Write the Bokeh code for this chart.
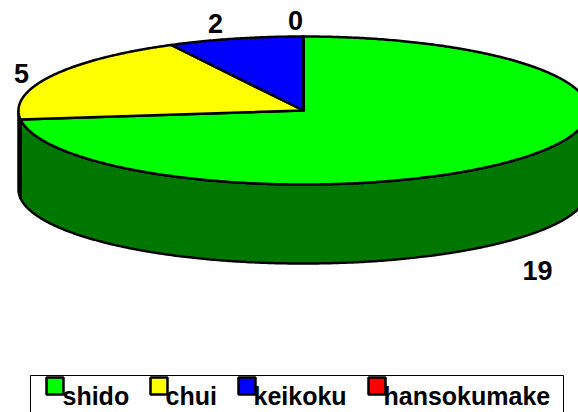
import numpy as np
from bokeh.plotting import figure
from bokeh.embed import file_html
from bokeh.resources import INLINE
from bokeh.core.properties import value

categories = ["shido", "chui", "keikoku", "hansokumake"]
counts = [19, 5, 2, 0]
top_colors = ["#00ff00", "#ffff00", "#0000ff", "#ff0000"]
side_colors = ["#007800", "#787800", "#000078", "#780000"]
label_x = [537, 21, 215, 295]
label_y = [270, 73, 23, 20]
swatch_x = [46, 150, 238, 368]
legend_text_x = [62, 165, 253, 383]

CX, CY, RX, RY, DEPTH = 303, 110, 285, 74, 79
W, H = 578, 412

p = figure(width=W, height=H, x_range=(0, W), y_range=(H, 0),
           toolbar_location=None, output_backend="svg", min_border=0,
           background_fill_color="white", border_fill_color="white", outline_line_color=None)
p.xaxis.visible = False
p.yaxis.visible = False
p.grid.visible = False

def rim(a, b, dy=0.0):
    t = np.radians(np.linspace(a, b, max(2, int(abs(b - a) * 2) + 1)))
    return CX + RX * np.sin(t), CY - RY * np.cos(t) + dy

fractions = np.array(counts, dtype=float) / sum(counts)
edges = np.concatenate([[0], np.cumsum(fractions) * 360])

# side wall: only the front half of the rim (90..270 degrees clockwise from the top)
for i in range(len(counts)):
    a, b = max(edges[i], 90), min(edges[i + 1], 270)
    if b > a:
        x1, y1 = rim(a, b)
        x2, y2 = rim(b, a, DEPTH)
        p.patch(np.concatenate([x1, x2]), np.concatenate([y1, y2]),
                fill_color=side_colors[i], line_color="black", line_width=2.5)

# top face
for i in range(len(counts)):
    x1, y1 = rim(edges[i], edges[i + 1])
    p.patch(np.concatenate([[CX], x1]), np.concatenate([[CY], y1]),
            fill_color=top_colors[i], line_color="black", line_width=2.5, line_join="round")

p.text(label_x, label_y, text=[str(c) for c in counts], text_font=value("Liberation Sans"),
       text_font_style="bold", text_font_size="27px", text_align="center",
       text_baseline="alphabetic", text_color="black")

# legend
p.quad(left=[30], right=[563], top=[375], bottom=[430], fill_color="white",
       line_color="black", line_width=1)
p.quad(left=swatch_x, right=[x + 17 for x in swatch_x], top=[377] * 4, bottom=[394] * 4,
       fill_color=top_colors, line_color="black", line_width=2.5)
p.text(legend_text_x, [395] * 4, text=categories, text_font=value("Liberation Sans"),
       text_font_style="bold", text_font_size="25px", text_align="left",
       text_baseline="alphabetic", text_color="black")

open("out.html", "w").write(file_html(p, INLINE))
